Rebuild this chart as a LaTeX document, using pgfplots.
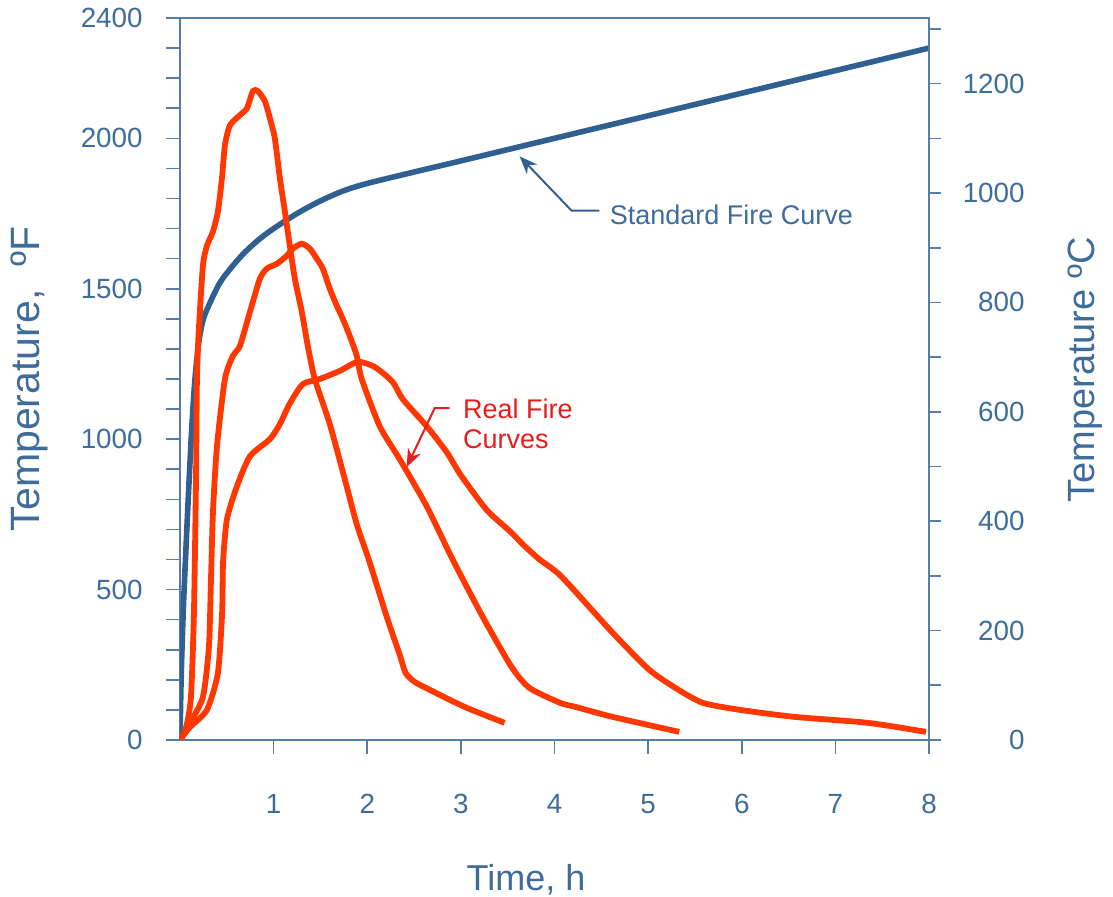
\documentclass[border=0pt]{standalone}
\usepackage{fontspec}
\setmainfont{Liberation Sans}
\usepackage{pgfplots}
\pgfplotsset{compat=1.18}
\usetikzlibrary{arrows.meta}

\definecolor{axblue}{RGB}{88,124,168}
\definecolor{txtblue}{RGB}{62,108,155}
\definecolor{stdblue}{RGB}{48,96,145}
\definecolor{firered}{RGB}{255,55,0}
\definecolor{annred}{RGB}{232,28,28}

\pgfplotsset{
  firestyle/.style={
    scale only axis, width=374.5pt, height=361pt,
    at={(0,0)}, anchor=south west,
    xmin=0, xmax=8,
    axis line style={axblue, line width=0.8pt},
    tick style={axblue, line width=0.8pt},
    tick align=outside,
    major tick length=7pt, minor tick length=7pt,
    ticklabel style={font=\fontsize{13.9}{16}\selectfont, text=txtblue},
    /pgf/number format/assume math mode=true,
    /pgf/number format/1000 sep={},
    scaled ticks=false,
  },
}

\begin{document}
\begin{tikzpicture}
\path[use as bounding box] (-90pt,-78.5pt) rectangle (466.5pt,370pt);

% left axis, deg F
\begin{axis}[
  firestyle,
  ymin=0, ymax=2400,
  xtick={1,...,8}, xtick pos=bottom,
  ytick={0,500,1000,1500,2000,2400}, ytick pos=left,
  minor ytick={100,200,300,400,600,700,800,900,1100,1200,1300,1400,1600,1700,1800,1900,2100,2200,2300},
  xticklabel style={anchor=north, inner sep=0pt, yshift=-20pt},
  yticklabel style={anchor=east, inner sep=0pt, xshift=-11.5pt},
  xlabel={Time, h},
  xlabel style={at={(axis description cs:0.462,-0.194)}, anchor=center,
    font=\fontsize{18}{20}\selectfont, text=txtblue},
  ylabel={Temperature,\ \ ºF},
  ylabel style={at={(axis description cs:-0.2016,0.5)}, anchor=center,
    font=\fontsize{20.5}{22}\selectfont, text=txtblue},
]
% standard fire curve
\addplot[stdblue, line width=2.8pt, smooth, tension=0.5] coordinates {
  (0,0) (0.012,200) (0.035,430) (0.07,680) (0.1,880) (0.13,1060)
  (0.16,1200) (0.2,1320) (0.25,1400) (0.333,1462) (0.417,1515)
  (0.5,1552) (0.667,1613) (0.833,1661) (1.0,1700) (1.25,1750)
  (1.5,1792) (1.75,1826) (2.0,1850) (2.5,1888) (3,1925) (4,2000)
  (5,2075) (6,2150) (7,2225) (8,2300)
};

% real fire curve, short and hot
\addplot[firered, line width=2.9pt, smooth, tension=0.4] coordinates {
  (0,0) (0.064,40) (0.117,143) (0.149,423) (0.171,867) (0.181,1200)
  (0.2,1357) (0.245,1577) (0.288,1643) (0.352,1690) (0.405,1757)
  (0.448,1867) (0.48,1977) (0.533,2043) (0.64,2077) (0.715,2100)
  (0.779,2157) (0.832,2157) (0.907,2123) (0.96,2067) (1.013,2000)
  (1.067,1867) (1.12,1757) (1.173,1643) (1.227,1533) (1.301,1423)
  (1.365,1310) (1.44,1200) (1.6,1050) (1.76,867) (1.888,717)
  (2.016,600) (2.208,410) (2.347,283) (2.41,223) (2.507,193)
  (2.667,167) (3.04,110) (3.467,57)
};

% real fire curve, medium
\addplot[firered, line width=2.9pt, smooth, tension=0.4] coordinates {
  (0,0) (0.107,57) (0.245,143) (0.309,310) (0.331,533) (0.352,757)
  (0.395,977) (0.48,1200) (0.565,1277) (0.64,1310) (0.747,1423)
  (0.853,1533) (0.928,1567) (1.035,1583) (1.141,1610) (1.205,1633)
  (1.301,1650) (1.387,1633) (1.461,1600) (1.525,1567) (1.6,1500)
  (1.675,1443) (1.739,1400) (1.813,1343) (1.888,1277) (1.941,1200)
  (2.133,1043) (2.347,933) (2.635,777) (2.912,600) (3.232,410)
  (3.541,243) (3.733,173) (4.064,123) (4.224,110) (4.619,77) (5.333,27)
};

% real fire curve, long and cool
\addplot[firered, line width=2.9pt, smooth, tension=0.4] coordinates {
  (0,0) (0.107,43) (0.288,100) (0.405,223) (0.45,423) (0.46,590)
  (0.501,733) (0.608,843) (0.747,943) (0.96,1000) (1.067,1050)
  (1.17,1117) (1.312,1183) (1.493,1200) (1.707,1227) (1.899,1257)
  (2.08,1240) (2.272,1190) (2.379,1133) (2.635,1043) (2.848,957)
  (3.0,880) (3.275,765) (3.52,695) (3.68,645) (3.84,600)
  (4.075,543) (4.619,357) (5.013,233) (5.323,167) (5.589,123)
  (5.984,100) (6.56,77) (7.349,57) (7.968,27)
};

% annotations
\node[anchor=west, inner sep=0pt, text=txtblue,
  font=\fontsize{13.5}{16}\selectfont] at (axis cs:4.587,1747) {Standard Fire Curve};
\draw[stdblue, line width=1pt, -{Stealth[length=9pt,width=7pt]}]
  (axis cs:4.48,1760) -- (axis cs:4.181,1760) -- (axis cs:3.627,1940);
\node[anchor=west, inner sep=0pt, align=left, text=annred,
  font=\fontsize{13.5}{15}\selectfont] at (axis cs:3.019,1050) {Real Fire\\Curves};
\draw[annred, line width=1pt, -{Stealth[length=9pt,width=7pt]}]
  (axis cs:2.88,1103) -- (axis cs:2.72,1103) -- (axis cs:2.421,907);
\end{axis}

% right axis, deg C
\begin{axis}[
  firestyle,
  ymin=0, ymax=1320,
  axis x line=none, axis y line*=right,
  ytick={0,200,...,1200}, ytick pos=right,
  minor ytick={100,300,...,1300},
  major tick length=6pt, minor tick length=6pt,
  yticklabel style={anchor=east, inner sep=0pt, xshift=42pt},
  ylabel={Temperature ºC},
  ylabel style={at={(axis description cs:1.2083,0.5125)}, anchor=center,
    font=\fontsize{19}{21}\selectfont, text=txtblue},
]
\end{axis}
\end{tikzpicture}
\end{document}
